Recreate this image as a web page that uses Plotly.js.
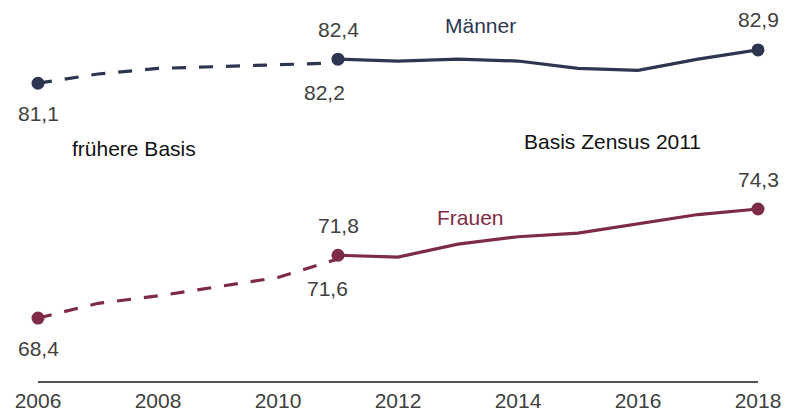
<!DOCTYPE html>
<html>
<head>
<meta charset="utf-8">
<script src="https://cdn.plot.ly/plotly-3.0.1.min.js"></script>
<style>
  html, body { margin: 0; padding: 0; background: #fff; }
  #chart { width: 785px; height: 409px; }
</style>
</head>
<body>
<div id="chart"></div>
<script>
// ---- data ----
const yearsOld = [2006, 2007, 2008, 2009, 2010, 2011];
const maennerOld = [81.1, 81.6, 81.9, 82.0, 82.1, 82.2];
const frauenOld = [68.4, 69.2, 69.6, 70.1, 70.6, 71.6];

const yearsNew = [2011, 2012, 2013, 2014, 2015, 2016, 2017, 2018];
const maennerNew = [82.4, 82.3, 82.4, 82.3, 81.9, 81.8, 82.4, 82.9];
const frauenNew = [71.8, 71.7, 72.4, 72.8, 73.0, 73.5, 74.0, 74.3];

const tickYears = [2006, 2008, 2010, 2012, 2014, 2016, 2018];
const seriesNames = ["Männer", "Frauen"];
const basisLabels = ["frühere Basis", "Basis Zensus 2011"];

// ---- styles ----
const cM = "#2d3651";
const cF = "#7e2b45";
const cText = "#404040";
const FONT = "Liberation Sans, Arial, sans-serif";
const FS = 21;
const fmt = v => v.toFixed(1).replace(".", ",");

function lineTrace(x, y, color, dash) {
  return { x, y, type: "scatter", mode: "lines", hoverinfo: "skip", cliponaxis: false,
    line: { color, width: 3.2, dash: dash || "solid", shape: "linear" } };
}
function dotTrace(x, y, color) {
  return { x, y, type: "scatter", mode: "markers", hoverinfo: "skip", cliponaxis: false,
    marker: { color, size: 13 } };
}

const traces = [
  lineTrace(yearsOld, maennerOld, cM, "14px,13px"),
  lineTrace(yearsOld, frauenOld, cF, "14px,13px"),
  lineTrace(yearsNew, maennerNew, cM),
  lineTrace(yearsNew, frauenNew, cF),
  dotTrace([yearsOld[0], yearsNew[0], yearsNew[yearsNew.length - 1]],
           [maennerOld[0], maennerNew[0], maennerNew[maennerNew.length - 1]], cM),
  dotTrace([yearsOld[0], yearsNew[0], yearsNew[yearsNew.length - 1]],
           [frauenOld[0], frauenNew[0], frauenNew[frauenNew.length - 1]], cF)
];

function valLabel(x, y, up, xshift) {
  return { x, y, xref: "x", yref: "y", text: fmt(y), showarrow: false,
    xanchor: "center", yanchor: "middle", yshift: up ? 30 : -30, xshift: xshift || 0,
    font: { family: FONT, size: FS, color: cText } };
}
const lastM = maennerNew.length - 1, lastF = frauenNew.length - 1;
const annotations = [
  valLabel(yearsOld[0], maennerOld[0], false),
  valLabel(yearsOld[yearsOld.length - 1], maennerOld[maennerOld.length - 1], false, -14),
  valLabel(yearsNew[0], maennerNew[0], true),
  valLabel(yearsNew[lastM], maennerNew[lastM], true),
  valLabel(yearsOld[0], frauenOld[0], false),
  valLabel(yearsOld[yearsOld.length - 1], frauenOld[frauenOld.length - 1], false, -11),
  valLabel(yearsNew[0], frauenNew[0], true),
  valLabel(yearsNew[lastF], frauenNew[lastF], true),
  { x: 0.614, y: 0.934, xref: "paper", yref: "paper", text: seriesNames[0], showarrow: false,
    xanchor: "center", yanchor: "middle", font: { family: FONT, size: FS, color: cM } },
  { x: 0.6, y: 0.43, xref: "paper", yref: "paper", text: seriesNames[1], showarrow: false,
    xanchor: "center", yanchor: "middle", font: { family: FONT, size: FS, color: cF } },
  { x: 0.134, y: 0.611, xref: "paper", yref: "paper", text: basisLabels[0], showarrow: false,
    xanchor: "center", yanchor: "middle", font: { family: FONT, size: FS, color: "#111" } },
  { x: 0.798, y: 0.628, xref: "paper", yref: "paper", text: basisLabels[1], showarrow: false,
    xanchor: "center", yanchor: "middle", font: { family: FONT, size: FS, color: "#111" } }
];

const layout = {
  width: 785, height: 409,
  margin: { l: 38, r: 27, t: 0, b: 28 },
  paper_bgcolor: "#fff", plot_bgcolor: "#fff",
  showlegend: false,
  xaxis: {
    range: [2006, 2018], tickvals: tickYears, ticktext: tickYears.map(String),
    showgrid: false, zeroline: false, showline: true, linecolor: "#555", linewidth: 1.5,
    ticks: "", tickfont: { family: FONT, size: FS, color: cText }, fixedrange: true
  },
  yaxis: { range: [65, 85.6], visible: false, showgrid: false, zeroline: false, fixedrange: true },
  annotations
};

Plotly.newPlot("chart", traces, layout, { displayModeBar: false, staticPlot: true });
</script>
</body>
</html>
